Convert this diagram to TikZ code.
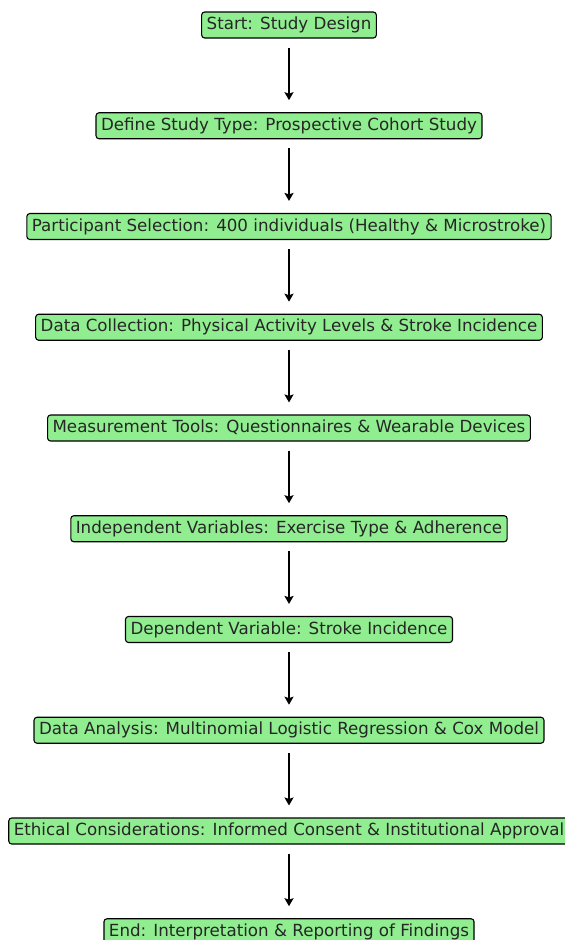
\documentclass[tikz,border=0pt]{standalone}
\usepackage{fontspec}
\setmainfont{DejaVu Sans}
\usetikzlibrary{positioning,arrows.meta}
\definecolor{boxgreen}{HTML}{90EE90}
\tikzset{
  stepbox/.style={draw=black, fill=boxgreen, rounded corners=3pt, line width=1.1pt,
    text=black!85, font=\fontsize{16.7}{20}\selectfont, inner xsep=5pt, inner ysep=0pt,
    text height=12.5pt, text depth=3.5pt, minimum height=26pt},
  flowarrow/.style={-{Stealth[length=8pt,width=9pt,inset=1.5pt]}, line width=2pt,
    shorten <=9pt, shorten >=12pt}
}
\begin{document}
\begin{tikzpicture}[node distance=73.65pt]
        % Fix the picture size
        \useasboundingbox (0,0) rectangle (565pt,-940pt);

        % Draw the steps of the study design
        \node[stepbox] (start) at (289pt,-25pt) {Start: Study Design};
        \node[stepbox, below=of start] (type) {Define Study Type: Prospective Cohort Study};
        \node[stepbox, below=of type] (select) {Participant Selection: 400 individuals (Healthy \& Microstroke)};
        \node[stepbox, below=of select] (collect) {Data Collection: Physical Activity Levels \& Stroke Incidence};
        \node[stepbox, below=of collect] (tools) {Measurement Tools: Questionnaires \& Wearable Devices};
        \node[stepbox, below=of tools] (indep) {Independent Variables: Exercise Type \& Adherence};
        \node[stepbox, below=of indep] (dep) {Dependent Variable: Stroke Incidence};
        \node[stepbox, below=of dep] (analysis) {Data Analysis: Multinomial Logistic Regression \& Cox Model};
        \node[stepbox, below=of analysis] (ethics) {Ethical Considerations: Informed Consent \& Institutional Approval};
        \node[stepbox, below=of ethics] (end) {End: Interpretation \& Reporting of Findings};

        % Connect the steps
        \foreach \a/\b in {start/type, type/select, select/collect, collect/tools, tools/indep,
                           indep/dep, dep/analysis, analysis/ethics, ethics/end}
            \draw[flowarrow] (\a) -- (\b);

    \end{tikzpicture}
\end{document}
